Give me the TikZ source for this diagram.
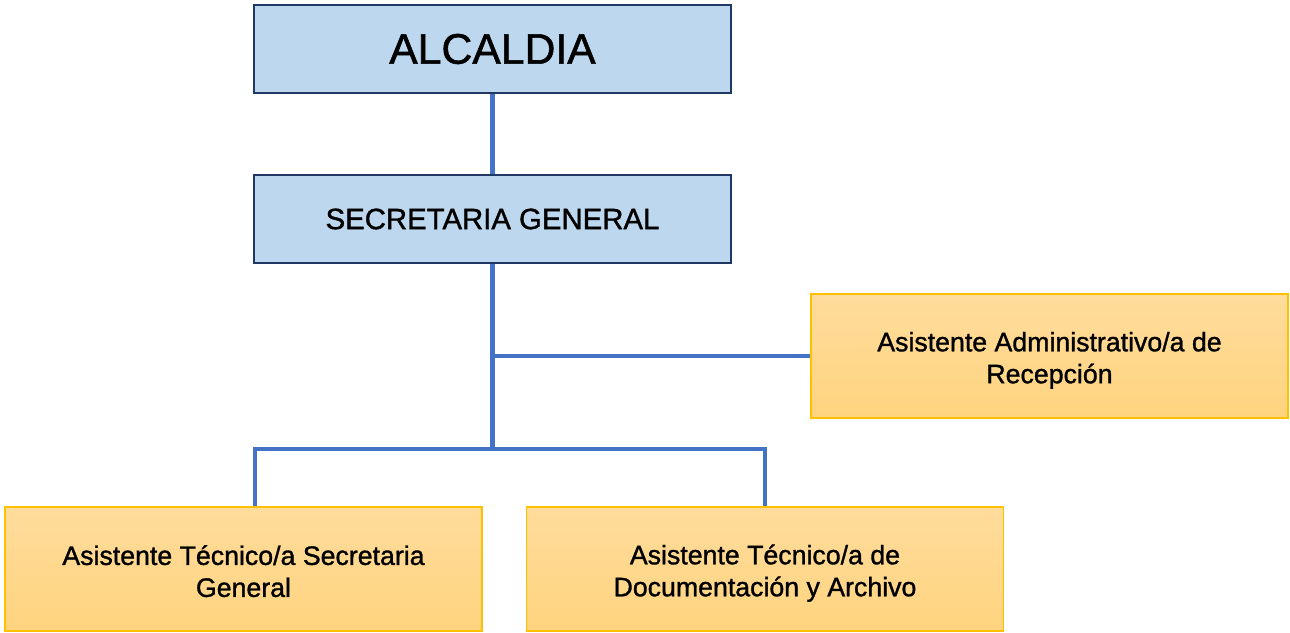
\documentclass[tikz,border=0pt]{standalone}
\usepackage{fontspec}
\setmainfont{Liberation Sans}[FakeBold=1.2]
\usepackage{tikz}
\usetikzlibrary{positioning}

\definecolor{boxblue}{HTML}{BDD7EE}
\definecolor{edgeblue}{HTML}{1F3864}
\definecolor{linkblue}{HTML}{4472C4}
\definecolor{boxorange}{HTML}{FFD47F}
\definecolor{boxorangetop}{HTML}{FFDC9C}
\definecolor{edgeorange}{HTML}{FFC000}

\tikzset{
  headbox/.style={draw=edgeblue, line width=0.8pt, fill=boxblue, minimum width=9.54cm, minimum height=1.76cm, inner sep=0pt, align=center},
  staffbox/.style={draw=edgeorange, line width=0.8pt, top color=boxorangetop, bottom color=boxorange, minimum width=9.54cm, minimum height=2.48cm, inner sep=0pt, align=center, font=\fontsize{15.2}{18.2}\selectfont},
  link/.style={draw=linkblue, line width=2.3pt}
}

\begin{document}
\begin{tikzpicture}

\useasboundingbox (0,0) rectangle (25.8,-12.64);

\node[headbox, font=\fontsize{24.3}{29}\selectfont] (alcaldia) at (9.85,-0.98) {ALCALDIA};
\node[headbox, font=\fontsize{16.7}{20}\selectfont] (secretaria) at (9.85,-4.38) {SECRETARIA GENERAL};

\node[staffbox] (recepcion) at (20.99,-7.12) {\rule{0pt}{1.05em}Asistente Administrativo/a de\\Recepción};
\node[staffbox] (tecsec) at (4.87,-11.38) {\rule{0pt}{0.9em}Asistente Técnico/a Secretaria\\General};
\node[staffbox] (tecdoc) at (15.30,-11.38) {\rule{0pt}{1.05em}Asistente Técnico/a de\\Documentación y Archivo};

\coordinate (branch) at (9.85,-8.98);

\draw[link] (alcaldia) -- (secretaria);
\draw[link] (secretaria) -- (branch);
\draw[link] (secretaria.south |- recepcion.west) -- (recepcion.west);
\draw[link] (branch) -| ([xshift=0.23cm]tecsec.north);
\draw[link] (branch) -| (tecdoc.north);

\end{tikzpicture}
\end{document}
